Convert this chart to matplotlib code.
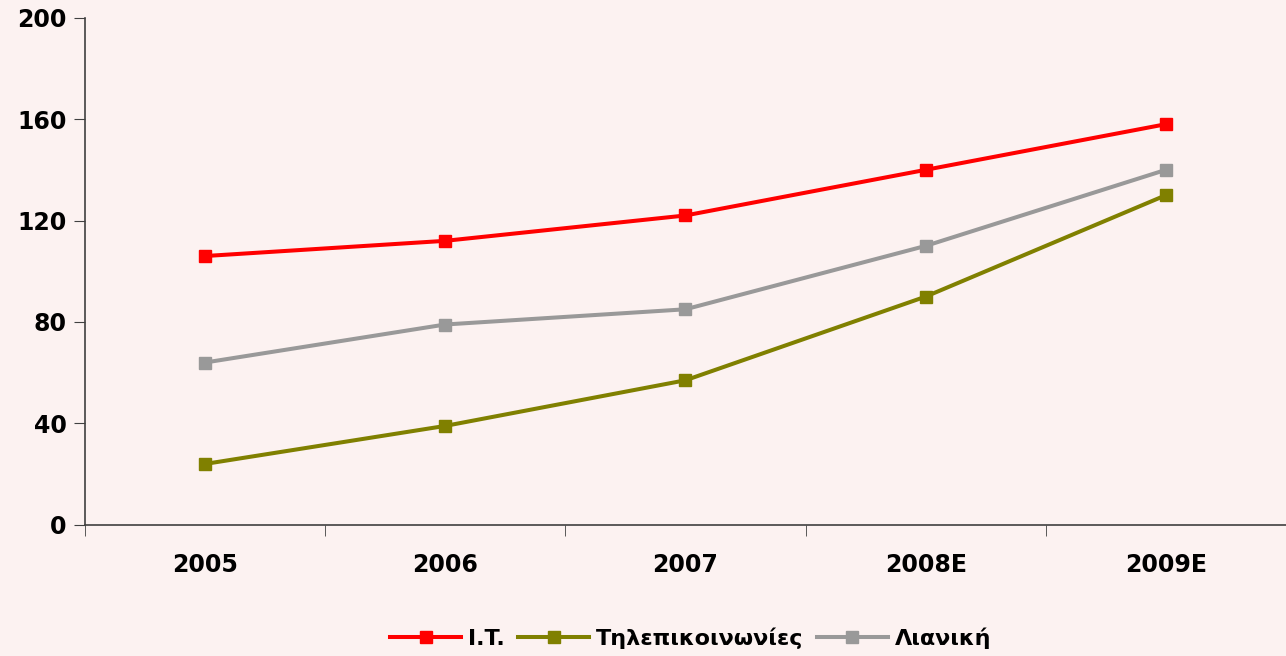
import numpy as np
import matplotlib.pyplot as plt

years = ['2005', '2006', '2007', '2008E', '2009E']
it = [106, 112, 122, 140, 158]
telecom = [24, 39, 57, 90, 130]
retail = [64, 79, 85, 110, 140]
labels = ['I.T.', 'Τηλεπικοινωνίες', 'Λιανική']
colors = ['#FF0000', '#808000', '#999999']

plt.rcParams['font.family'] = ['DejaVu Sans']
plt.rcParams['font.weight'] = 'bold'

bg = '#FCF2F1'
fig = plt.figure(figsize=(12.86, 6.56), dpi=100, facecolor=bg)
ax = fig.add_axes([0.066, 0.2, 0.934, 0.773], facecolor=bg)

x = np.arange(len(years))
for ys, lab, c in zip([it, telecom, retail], labels, colors):
    ax.plot(x, ys, color=c, lw=2.9, marker='s', ms=8.5, label=lab)

ax.set_ylim(0, 200)
ax.set_yticks([0, 40, 80, 120, 160, 200])
ax.set_xlim(-0.5, 4.45)
ax.set_xticks(x)
ax.set_xticklabels(years)
ax.set_xticks(np.arange(-0.5, 5, 1), minor=True)
ax.tick_params(axis='x', which='major', length=0, pad=20, labelsize=17)
ax.tick_params(axis='x', which='minor', length=8, color='#404040', direction='out')
ax.tick_params(axis='y', length=8, color='#404040', labelsize=17, pad=5)
for s in ['top', 'right']:
    ax.spines[s].set_visible(False)
for s in ['left', 'bottom']:
    ax.spines[s].set_color('#404040')
    ax.spines[s].set_linewidth(1.2)

leg = fig.legend(loc='lower center', bbox_to_anchor=(0.537, -0.02), ncol=3,
                 frameon=False, fontsize=16, handlelength=3.2, columnspacing=0.6,
                 handletextpad=0.3)

fig.savefig('out.png', dpi=100, facecolor=bg)
